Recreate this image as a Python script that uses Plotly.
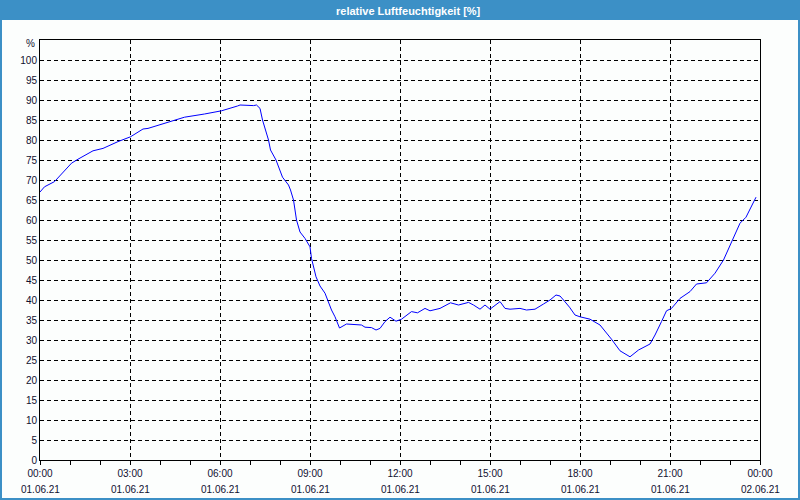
import plotly.graph_objects as go

# time of day (minutes after 01.06.21 00:00) and relative humidity [%]
minutes = [0, 9, 29, 46, 63, 76, 106, 126, 156, 181, 206, 216, 263, 289, 329, 363, 395, 400,
           427, 433, 440, 445, 457, 461, 472, 485, 497, 501, 507, 513, 520, 530, 540, 543,
           552, 560, 570, 583, 590, 599, 613, 643, 650, 663, 672, 680, 690, 700, 712, 723,
           743, 755, 770, 780, 800, 821, 837, 857, 867, 880, 890, 900, 920, 930, 940, 960,
           973, 990, 1007, 1020, 1032, 1040, 1047, 1059, 1070, 1080, 1100, 1120, 1143, 1160,
           1180, 1197, 1220, 1230, 1243, 1253, 1263, 1280, 1300, 1313, 1333, 1350, 1367,
           1383, 1400, 1412, 1423, 1432]
humidity = [67.0, 68.3, 69.6, 72.0, 74.2, 75.2, 77.3, 77.9, 79.6, 80.8, 82.75, 82.9, 84.6, 85.7,
            86.5, 87.3, 88.5, 88.75, 88.6, 88.75, 87.9, 85.0, 80.0, 77.5, 75.0, 70.7, 68.75,
            67.5, 65.0, 60.0, 57.0, 55.4, 53.3, 50.4, 45.8, 43.5, 41.7, 37.5, 35.8, 33.0, 34.0,
            33.75, 33.2, 33.1, 32.5, 32.9, 34.6, 35.7, 34.7, 35.2, 37.1, 36.8, 37.9, 37.3, 37.9,
            39.3, 38.75, 39.4, 38.75, 37.7, 38.75, 37.7, 39.6, 37.9, 37.7, 37.9, 37.5, 37.7,
            39.0, 40.0, 41.25, 41.0, 40.0, 38.2, 36.25, 35.8, 35.2, 33.75, 30.2, 27.3, 25.8,
            27.5, 29.0, 31.25, 34.6, 37.3, 37.9, 40.4, 42.1, 44.0, 44.3, 46.7, 50.0, 54.6,
            59.2, 60.7, 63.5, 65.7]

x_tick_hours = [0, 3, 6, 9, 12, 15, 18, 21, 24]
x_tick_times = ["00:00", "03:00", "06:00", "09:00", "12:00", "15:00", "18:00", "21:00", "00:00"]
x_tick_dates = ["01.06.21", "01.06.21", "01.06.21", "01.06.21", "01.06.21", "01.06.21",
                "01.06.21", "01.06.21", "02.06.21"]
y_tick_vals = list(range(0, 101, 5))
y_unit = "%"
title_text = "relative Luftfeuchtigkeit [%]"

hours = [m / 60 for m in minutes]

W, H = 800, 500
ML, MR, MT, MB = 40, 40, 40, 40
pw, ph = W - ML - MR, H - MT - MB

def px(xp):
    return (xp - ML) / pw

def py(yp):
    return (H - MB - yp) / ph

blue = "#3c90c6"
txt = "#101030"
font = "Liberation Sans, Arial, sans-serif"

fig = go.Figure()
fig.add_trace(go.Scatter(x=hours, y=humidity, mode="lines",
                         line=dict(color="#0000ff", width=1), hoverinfo="skip"))

annotations = [
    dict(text="<b>" + title_text + "</b>", xref="paper", yref="paper",
         x=px(409), y=py(10.5), xanchor="center", yanchor="middle", showarrow=False,
         font=dict(family=font, size=11, color="white")),
    dict(text=y_unit, xref="paper", yref="paper", x=px(37), y=py(44),
         xanchor="right", yanchor="middle", showarrow=False,
         font=dict(family=font, size=10, color=txt)),
]
for h, d in zip(x_tick_hours, x_tick_dates):
    annotations.append(dict(text=d, xref="x", yref="paper", x=h, y=py(489),
                            xanchor="center", yanchor="middle", showarrow=False,
                            font=dict(family=font, size=10, color=txt)))

fig.update_layout(
    width=W, height=H,
    margin=dict(l=ML, r=MR, t=MT, b=MB, pad=0, autoexpand=False),
    paper_bgcolor="#fcfefd", plot_bgcolor="#fcfefd",
    showlegend=False,
    font=dict(family=font, size=10, color=txt),
    xaxis=dict(range=[0, 24], tickvals=x_tick_hours, ticktext=x_tick_times,
               showgrid=True, gridcolor="black", griddash="4px,3px", gridwidth=1,
               showline=True, linecolor="black", linewidth=1, mirror=True,
               ticks="outside", ticklen=4, tickcolor="black", automargin=False,
               minor=dict(dtick=1, ticks="outside", ticklen=4, tickcolor="black", showgrid=False),
               zeroline=False, tickfont=dict(size=10), ticklabelstandoff=0),
    yaxis=dict(range=[0, 105], tickvals=y_tick_vals,
               showgrid=True, gridcolor="black", griddash="4px,3px", gridwidth=1,
               showline=True, linecolor="black", linewidth=1, mirror=True,
               ticks="", zeroline=False, tickfont=dict(size=10), automargin=False),
    shapes=[
        dict(type="rect", xref="paper", yref="paper", x0=px(0), x1=px(800), y0=py(20), y1=py(0),
             fillcolor=blue, line=dict(width=0), layer="above"),
        dict(type="rect", xref="paper", yref="paper", x0=px(1), x1=px(799), y0=py(499), y1=py(1),
             fillcolor="rgba(0,0,0,0)", line=dict(color=blue, width=2), layer="above"),
    ],
    annotations=annotations,
)

fig.write_html("out.html")
